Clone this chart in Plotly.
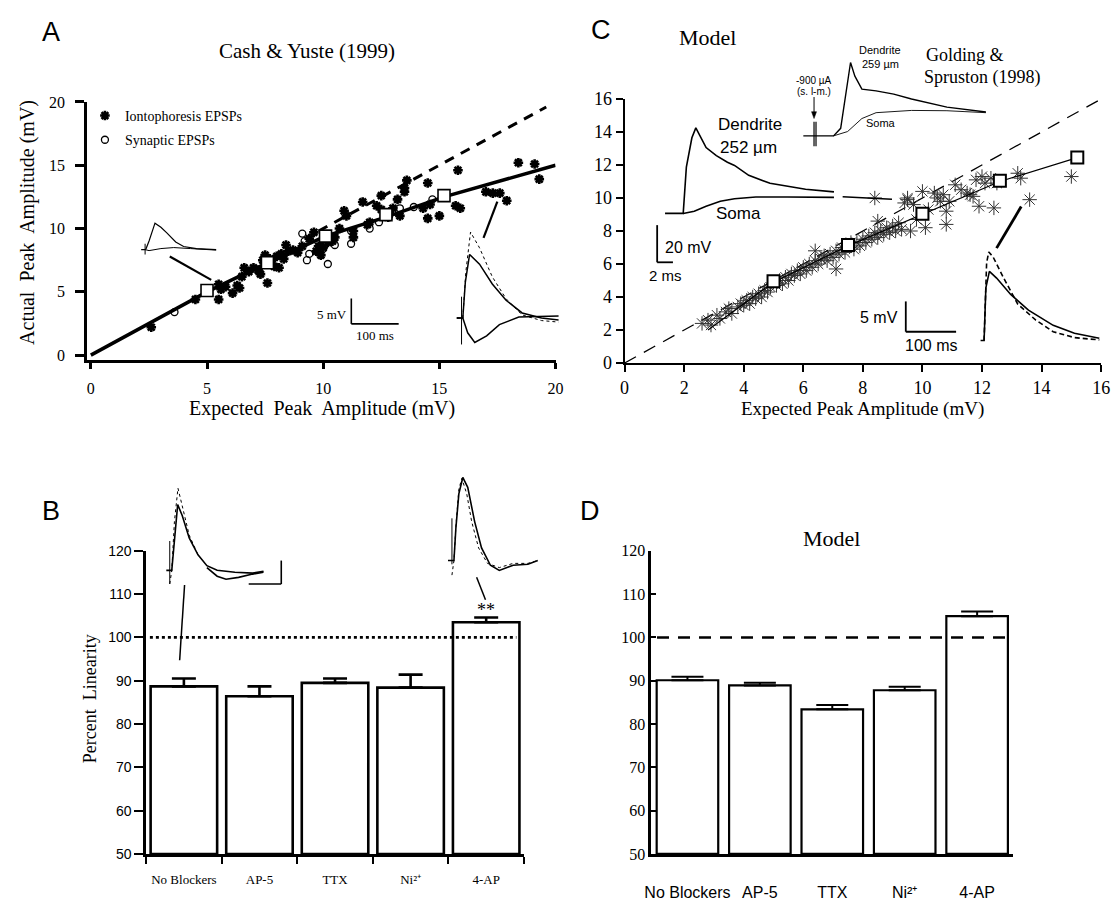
import plotly.graph_objects as go

W, H = 1120, 905

# ---------------- Panel A : Cash & Yuste (1999) ----------------
a_ionto_x = [2.6, 4.5, 5.5, 5.6, 5.5, 5.8, 6.1, 6.3, 6.4, 6.5, 6.6, 6.8, 7.0, 7.2, 7.3, 7.4, 7.5, 7.6,
             7.7, 7.8, 7.9, 8.0, 8.1, 8.2, 8.3, 8.4, 8.5, 8.7, 8.9, 9.1, 9.4, 9.6, 9.7, 9.8, 9.9, 10.0,
             10.2, 10.4, 10.5, 10.7, 10.9, 11.0, 11.3, 11.3, 11.7, 11.9, 12.0, 12.3, 12.5, 12.5, 12.8,
             13.0, 13.2, 13.3, 13.5, 13.6, 13.5, 14.3, 14.5, 14.5, 14.6, 15.0, 15.7, 15.8, 15.9, 17.0,
             17.3, 17.6, 17.9, 18.4, 19.1, 19.3]
a_ionto_y = [2.2, 4.4, 4.4, 5.2, 5.6, 5.4, 4.9, 5.5, 5.3, 6.2, 6.9, 6.6, 6.9, 6.7, 6.4, 7.5, 7.9, 5.7,
             7.6, 7.2, 7.0, 7.8, 6.9, 8.0, 7.6, 8.7, 8.2, 8.3, 8.1, 8.6, 9.2, 9.7, 8.2, 8.6, 7.9, 8.5,
             8.9, 9.0, 9.3, 10.0, 11.4, 11.0, 9.3, 9.8, 12.1, 10.3, 10.5, 11.8, 12.6, 11.5, 10.9,
             11.6, 12.3, 11.0, 12.9, 13.8, 13.2, 11.6, 13.6, 10.8, 11.9, 11.0, 11.8, 14.6, 11.6, 12.9,
             12.8, 12.8, 12.2, 15.2, 15.1, 13.9]
a_syn_x = [3.6, 9.1, 9.2, 9.3, 9.4, 10.0, 10.2, 10.5, 11.2, 11.2, 12.0, 12.4, 13.3, 13.9, 14.7]
a_syn_y = [3.4, 9.6, 9.0, 7.5, 8.0, 8.4, 7.2, 8.7, 8.8, 9.8, 10.0, 10.5, 11.6, 11.7, 12.3]
a_bin_x = [5.0, 7.6, 10.1, 12.7, 15.2]
a_bin_y = [5.1, 7.3, 9.4, 11.1, 12.6]
a_fit_x = [0, 5.0, 7.6, 10.1, 12.7, 15.2, 20.0]
a_fit_y = [0, 5.0, 7.3, 9.4, 10.9, 12.5, 15.0]
a_unity_x = [9.8, 19.6]
a_unity_y = [9.8, 19.6]
a_ticks = [0, 5, 10, 15, 20]

# ---------------- Panel C : Model ----------------
c_star_x = [2.6, 2.8, 2.9, 3.1, 3.2, 3.4, 3.5, 3.6, 3.8, 3.9, 4.0, 4.1, 4.2, 4.3, 4.4, 4.5, 4.6, 4.7,
            4.8, 4.9, 5.1, 5.2, 5.3, 5.4, 5.5, 5.6, 5.7, 5.8, 5.9, 6.0, 6.1, 6.2, 6.3, 6.4, 6.4, 6.5,
            6.6, 6.7, 6.8, 6.9, 7.0, 7.1, 7.1, 7.2, 7.3, 7.4, 7.6, 7.7, 7.8, 7.9, 8.0, 8.1, 8.2, 8.3,
            8.4, 8.5, 8.5, 8.6, 8.7, 8.8, 8.9, 9.0, 9.1, 9.2, 9.3, 9.4, 9.5, 9.6, 9.7, 9.8, 10.0,
            10.1, 10.2, 10.4, 10.5, 10.6, 10.7, 10.8, 10.8, 10.9, 11.1, 11.3, 11.5, 11.6, 11.7, 11.8,
            11.9, 12.0, 12.1, 12.3, 12.4, 12.5, 13.2, 13.3, 13.6, 15.0, 8.4, 9.5]
c_star_y = [2.4, 2.6, 2.3, 2.9, 2.7, 3.1, 3.3, 3.0, 3.4, 3.6, 3.5, 3.8, 3.6, 4.0, 3.9, 4.2, 4.0, 4.4,
            4.3, 4.6, 4.7, 5.0, 4.8, 5.2, 5.0, 5.4, 5.3, 5.6, 5.4, 5.8, 5.6, 6.0, 5.8, 6.2, 6.8, 6.0,
            6.3, 6.5, 6.2, 6.6, 6.4, 6.8, 5.7, 6.6, 7.0, 6.7, 7.3, 6.9, 7.3, 7.1, 7.5, 7.3, 7.7, 7.5,
            7.9, 7.6, 8.6, 8.0, 7.8, 8.2, 7.9, 8.3, 8.0, 8.5, 8.1, 9.7, 9.9, 8.0, 9.6, 8.7, 10.4,
            8.2, 9.3, 10.3, 10.0, 9.8, 10.2, 9.2, 8.4, 9.8, 10.8, 10.5, 10.3, 10.2, 10.1, 11.1,
            9.5, 11.3, 10.9, 11.2, 9.4, 10.9, 11.5, 11.2, 9.9, 11.3, 10.0, 10.0]
c_bin_x = [5.0, 7.5, 10.0, 12.6, 15.2]
c_bin_y = [4.95, 7.15, 9.05, 11.05, 12.45]
c_fit_x = [2.8, 5.0, 7.5, 10.0, 12.6, 15.2]
c_fit_y = [2.0, 4.9, 7.1, 9.0, 11.0, 12.45]
c_unity_x = [0, 16]
c_unity_y = [0, 16]
c_ticks = [0, 2, 4, 6, 8, 10, 12, 14, 16]

# ---------------- Panels B and D : percent linearity ----------------
b_categories = ["No Blockers", "AP-5", "TTX", "Ni²⁺", "4-AP"]
b_values = [88.7, 86.4, 89.5, 88.4, 103.5]
b_errors = [1.8, 2.3, 1.0, 3.0, 1.1]
d_categories = ["No Blockers", "AP-5", "TTX", "Ni²⁺", "4-AP"]
d_values = [90.1, 88.9, 83.4, 87.8, 104.9]
d_errors = [0.8, 0.6, 1.0, 0.8, 1.1]
pct_ticks = [50, 60, 70, 80, 90, 100, 110, 120]

# ---------------- inset waveforms (time ms, voltage mV) ----------------
a1_t = [2, 10, 12, 18, 30, 42, 54, 72, 88, 114, 154]
a1_v = [0, 0, 0.2, 1.7, 5.2, 4.4, 3.3, 1.5, 0.6, 0.2, 0]
a1_soma_t = [10, 18, 42, 68, 102, 154]
a1_soma_v = [0, -0.2, 0.2, 0.4, 0.2, -0.1]
a1_art_t = [10, 10]
a1_art_v = [1.15, -1.35]

a2_t = [4, 12.5, 16.7, 22, 31, 52, 79, 108, 142, 183, 219]
a2_v = [0, 0, 0, 7, 12.5, 10.6, 6.7, 3.5, 1.0, 0, -0.4]
a2_exp_t = [4, 16.7, 23, 33, 52, 79, 108, 142, 183, 219]
a2_exp_v = [0, 0, 9, 16.9, 13.8, 8.1, 3.8, 0.6, -0.5, -0.8]
a2_soma_t = [4, 16.7, 27, 42, 67, 94, 135, 219]
a2_soma_v = [0, 0, -2.9, -4.8, -3.5, -1.3, 0.2, 0.4]
a2_art_t = [14, 14]
a2_art_v = [4.2, -5.2]

c1_dend_t = [1.0, 3.3, 3.7, 4.4, 4.9, 5.5, 6.2, 7.5, 8.9, 9.8, 11.6, 14.3, 18.8, 22.4]
c1_dend_v = [0, 0, 24.9, 40.7, 46.0, 40.7, 35.4, 31.1, 27.5, 25.8, 20.5, 16.2, 13.0, 11.6]
c1_soma_t = [3.3, 4.7, 6.2, 8.0, 9.8, 12.5, 16.5, 22.4]
c1_soma_v = [0, 1.2, 3.8, 6.5, 7.9, 8.8, 8.8, 8.6]

c2_dend_t = [0, 15.4, 19, 21.7, 24, 26.2, 29.75, 36.95, 45.9, 54.9, 72.85, 92.6]
c2_dend_v = [0, 0, 3.85, 22.2, 37.5, 30.5, 23.85, 23, 21.35, 18.85, 14.7, 12.2]
c2_soma_t = [15.4, 22.5, 29.75, 36.95, 54.9, 72.85, 92.6]
c2_soma_v = [0, 2.2, 8.85, 11.85, 13, 12.85, 11.85]
c2_art_t = [5.5, 5.5, None, 6.5, 6.5]
c2_art_v = [7.2, -5.3, None, 7.2, -5.3]

c3_t = [5.5, 12.5, 16, 23, 37.3, 65.3, 100.6, 149.8, 192, 241.4]
c3_v = [0, 0, 8.7, 11.4, 10.3, 7.6, 5.0, 2.5, 1.2, 0.37]
c3_lin_t = [12.5, 17.5, 21.8, 30.2, 51.4, 79.4, 114.7, 149.8, 192, 241.4]
c3_lin_v = [0, 12.8, 14.6, 13.8, 10.3, 6.0, 3.4, 1.45, 0.48, 0.1]

b1_t = [13.6, 24.2, 30.3, 48.5, 62.4, 83.9, 110.9, 138.2, 169.7, 224.2, 278.8, 312.1]
b1_v = [0, 0, 0, 14.0, 11.7, 6.9, 3.3, 1.0, 0, -0.4, -0.6, -0.2]
b1_low_t = [138.2, 169.7, 197, 235.5, 278.8, 312.1]
b1_low_v = [0.6, -1.25, -1.9, -1.5, -0.8, -0.4]
b1_exp_t = [24.2, 30.3, 38.5, 49.4, 62.4, 83.9, 110.9]
b1_exp_v = [-2.9, 0, 10.4, 17.5, 13.75, 7.5, 3.3]
b1_art_t = [24.2, 24.2]
b1_art_v = [6.25, -2.9]

b2_t = [9.1, 27.3, 33.3, 42.4, 54.5, 69.7, 90.9, 112.1, 139.4, 166.7, 209.1, 254.5, 284.8]
b2_v = [0, 0, 6.9, 14.2, 17.7, 15.6, 8.3, 2.7, -1.0, -2.1, -1.0, -0.8, 0]
b2_exp_t = [21.2, 27.3, 33.3, 42.4, 51.5, 66.7, 81.8, 103, 130.3, 166.7, 209.1, 254.5, 284.8]
b2_exp_v = [-3.1, 0, 7.3, 15.2, 17.5, 14.2, 8.3, 2.7, -0.6, -1.5, -0.6, -0.6, 0]
b2_art_t = [21.2, 21.2]
b2_art_v = [9, -0.8]


def PX(x):
    return x / W


def PY(y):
    return 1 - y / H


def dom_x(a, b):
    return [PX(a), PX(b)]


def dom_y(top, bottom):
    return [PY(bottom), PY(top)]


SERIF = "Liberation Serif"
SANS = "Liberation Sans"

fig = go.Figure()


def line(x, y, xa, ya, width=1.5, dash="solid", color="black"):
    fig.add_trace(go.Scatter(x=x, y=y, xaxis=xa, yaxis=ya, mode="lines",
                             line=dict(color=color, width=width, dash=dash),
                             showlegend=False, hoverinfo="skip"))


# ---- Panel A traces ----
line(a_unity_x, a_unity_y, "x", "y", width=3, dash="10px,8px")
line(a_fit_x, a_fit_y, "x", "y", width=3.5)
fig.add_trace(go.Scatter(x=a_ionto_x, y=a_ionto_y, xaxis="x", yaxis="y", mode="markers",
                         name="Iontophoresis EPSPs", legendgroup="g1",
                         marker=dict(symbol="asterisk-open", size=8, color="black",
                                     line=dict(color="black", width=2.6))))
fig.add_trace(go.Scatter(x=a_syn_x, y=a_syn_y, xaxis="x", yaxis="y", mode="markers",
                         name="Synaptic EPSPs", legendgroup="g2",
                         marker=dict(symbol="circle-open", size=7, color="black",
                                     line=dict(color="black", width=1.3))))
fig.add_trace(go.Scatter(x=a_bin_x, y=a_bin_y, xaxis="x", yaxis="y", mode="markers",
                         showlegend=False,
                         marker=dict(symbol="square", size=12, color="white",
                                     line=dict(color="black", width=1.6))))

# ---- Panel C traces ----
line(c_unity_x, c_unity_y, "x2", "y2", width=1.3, dash="13px,9px")
fig.add_trace(go.Scatter(x=c_star_x, y=c_star_y, xaxis="x2", yaxis="y2", mode="markers",
                         showlegend=False,
                         marker=dict(symbol="asterisk-open", size=12, color="#333333",
                                     line=dict(color="#333333", width=1))))
line(c_fit_x, c_fit_y, "x2", "y2", width=1.2)
fig.add_trace(go.Scatter(x=c_bin_x, y=c_bin_y, xaxis="x2", yaxis="y2", mode="markers",
                         showlegend=False,
                         marker=dict(symbol="square", size=12, color="white",
                                     line=dict(color="black", width=2))))

# ---- Panel B bars ----
fig.add_trace(go.Bar(x=b_categories, y=[v - 50 for v in b_values], base=50, xaxis="x3", yaxis="y3",
                     width=0.88, showlegend=False,
                     marker=dict(color="white", line=dict(color="black", width=2.6)),
                     error_y=dict(type="data", array=b_errors, arrayminus=[0] * 5, symmetric=False,
                                  color="black", thickness=2.6, width=12)))
# ---- Panel D bars ----
fig.add_trace(go.Bar(x=d_categories, y=[v - 50 for v in d_values], base=50, xaxis="x4", yaxis="y4",
                     width=0.85, showlegend=False,
                     marker=dict(color="white", line=dict(color="black", width=2.2)),
                     error_y=dict(type="data", array=d_errors, arrayminus=[0] * 5, symmetric=False,
                                  color="black", thickness=2, width=16)))

# ---- inset waveforms ----
line(a1_t, a1_v, "x5", "y5", 1.2)
line(a1_soma_t, a1_soma_v, "x5", "y5", 1.0)
line(a1_art_t, a1_art_v, "x5", "y5", 1.0)
line(a2_exp_t, a2_exp_v, "x6", "y6", 1.0, "dot")
line(a2_t, a2_v, "x6", "y6", 1.5)
line(a2_soma_t, a2_soma_v, "x6", "y6", 1.5)
line(a2_art_t, a2_art_v, "x6", "y6", 1.0)
line(c1_dend_t, c1_dend_v, "x7", "y7", 1.6)
line(c1_soma_t, c1_soma_v, "x7", "y7", 1.6)
line(c2_dend_t, c2_dend_v, "x8", "y8", 1.4)
line(c2_soma_t, c2_soma_v, "x8", "y8", 0.9)
line(c2_art_t, c2_art_v, "x8", "y8", 1.2)
line(c3_lin_t, c3_lin_v, "x9", "y9", 1.6, "5px,3px")
line(c3_t, c3_v, "x9", "y9", 1.6)
line(b1_exp_t, b1_exp_v, "x10", "y10", 1.0, "dot")
line(b1_t, b1_v, "x10", "y10", 1.6)
line(b1_low_t, b1_low_v, "x10", "y10", 1.6)
line(b1_art_t, b1_art_v, "x10", "y10", 1.0)
line(b2_exp_t, b2_exp_v, "x11", "y11", 1.0, "dot")
line(b2_t, b2_v, "x11", "y11", 1.6)
line(b2_art_t, b2_art_v, "x11", "y11", 1.0)

axis_common = dict(showline=True, linecolor="black", showgrid=False, zeroline=False,
                   tickcolor="black", mirror=False)

layout = dict(
    width=W, height=H, margin=dict(l=0, r=0, t=0, b=0),
    paper_bgcolor="white", plot_bgcolor="white",
    barmode="overlay",
    showlegend=True,
    legend=dict(x=PX(80), y=PY(92), xanchor="left", yanchor="top",
                font=dict(family=SERIF, size=14, color="black"),
                bgcolor="rgba(0,0,0,0)", traceorder="grouped", tracegroupgap=3),
    xaxis=dict(axis_common, domain=dom_x(82, 557), range=[-0.17, 20], anchor="y",
               tickvals=a_ticks, ticks="outside", ticklen=6, tickwidth=2.5, linewidth=2.5,
               ticklabelstandoff=6,
               tickfont=dict(family=SERIF, size=16, color="black")),
    yaxis=dict(axis_common, domain=dom_y(94, 358), range=[-0.39, 20], anchor="x",
               tickvals=a_ticks, ticks="outside", ticklen=9, tickwidth=2.5, linewidth=2.5,
               ticklabelstandoff=7,
               tickfont=dict(family=SERIF, size=16, color="black")),
    xaxis2=dict(axis_common, domain=dom_x(627, 1110), range=[0, 16], anchor="y2",
                tickvals=c_ticks, ticks="outside", ticklen=7, tickwidth=2, linewidth=2,
                tickfont=dict(family=SERIF, size=18, color="black")),
    yaxis2=dict(axis_common, domain=dom_y(91, 361), range=[0, 16], anchor="x2",
                tickvals=c_ticks, ticks="outside", ticklen=7, tickwidth=2, linewidth=2,
                tickfont=dict(family=SERIF, size=18, color="black")),
    xaxis3=dict(axis_common, domain=dom_x(142, 525), range=[-0.5, 4.5], anchor="y3",
                type="category", tickson="boundaries", ticks="outside", ticklen=7, tickwidth=2,
                linewidth=2.5, ticklabelstandoff=12,
                tickfont=dict(family=SERIF, size=13, color="black")),
    yaxis3=dict(axis_common, domain=dom_y(553, 863), range=[50, 120], anchor="x3",
                tickvals=pct_ticks, ticks="outside", ticklen=9, tickwidth=2, linewidth=2.5,
                tickfont=dict(family=SANS, size=14, color="black")),
    xaxis4=dict(axis_common, domain=dom_x(654, 1021), range=[-0.5, 4.5], anchor="y4",
                type="category", ticks="", linewidth=2.5, ticklabelstandoff=22,
                tickfont=dict(family=SANS, size=16, color="black")),
    yaxis4=dict(axis_common, domain=dom_y(553, 863), range=[50, 120], anchor="x4",
                tickvals=pct_ticks, ticks="inside", ticklen=5, tickwidth=2, linewidth=2.5,
                tickfont=dict(family=SERIF, size=16, color="black")),
)

insets = {
    5: ((136, 216), (212, 250), [0, 160], [-0.96, 6.35]),
    6: ((455, 562), (222, 345), [0, 223], [-5.77, 17.88]),
    7: ((660, 850), (112, 212), [0, 23.75], [-2.1, 50.5]),
    8: ((808, 1000), (40, 145), [0, 96], [-8.15, 44.35]),
    9: ((985, 1110), (240, 345), [0, 245], [-1.13, 15.8]),
    10: ((158, 285), (480, 600), [0, 384.8], [-5.625, 19.375]),
    11: ((445, 545), (470, 585), [0, 303], [-4.58, 19.375]),
}
for n, (xd, yd, xr, yr) in insets.items():
    layout[f"xaxis{n}"] = dict(domain=dom_x(*xd), range=xr, visible=False, anchor=f"y{n}")
    layout[f"yaxis{n}"] = dict(domain=dom_y(*yd), range=yr, visible=False, anchor=f"x{n}")

fig.update_layout(**layout)


def seg(x0, y0, x1, y1, width=1.8):
    fig.add_shape(type="line", xref="paper", yref="paper",
                  x0=PX(x0), y0=PY(y0), x1=PX(x1), y1=PY(y1),
                  line=dict(color="black", width=width))


# connector lines and scale bars
seg(166, 252, 208, 276, 2.2)
seg(484, 233, 498, 196, 2.2)
seg(848, 191, 898, 193.6, 1.5)
seg(1004, 243.5, 1029, 201, 2.8)
seg(181, 588, 176, 665, 1.5)
seg(477, 580, 486, 603, 1.5)
seg(350, 295, 350, 321, 1.6)
seg(350, 321, 398, 321, 1.6)
seg(660, 220, 660, 258, 1.8)
seg(660, 258, 676, 258, 1.8)
seg(912, 298, 912, 329, 1.8)
seg(912, 329, 963, 329, 1.8)
seg(279, 563, 279, 587, 1.6)
seg(246, 587, 279, 587, 1.6)
# stimulus arrow (-900 uA)
seg(819, 89, 819, 106, 1.0)
fig.add_shape(type="path", xref="paper", yref="paper",
              path=f"M {PX(816.5)} {PY(104)} L {PX(821.5)} {PY(104)} L {PX(819)} {PY(111)} Z",
              fillcolor="black", line=dict(color="black", width=0.5))

# reference lines at 100 %
fig.add_shape(type="line", xref="x3", yref="y3", x0=-0.45, x1=4.4, y0=100, y1=100,
              line=dict(color="black", width=2.8, dash="dot"))
fig.add_shape(type="line", xref="x4", yref="y4", x0=-0.42, x1=4.45, y0=100, y1=100,
              line=dict(color="black", width=2.5, dash="12px,9px"))


def text(x, y, s, size, family=SERIF, angle=0, xanchor="center"):
    fig.add_annotation(x=PX(x), y=PY(y), xref="paper", yref="paper", text=s, showarrow=False,
                       font=dict(family=family, size=size, color="black"), textangle=angle,
                       xanchor=xanchor, yanchor="middle")


text(46, 22, "A", 27, SANS)
text(603, 20, "C", 27, SANS)
text(46, 512, "B", 27, SANS)
text(592, 512, "D", 27, SANS)
text(305, 42, "Cash &amp; Yuste (1999)", 21)
text(21, 217, "Actual  Peak  Amplitude (mV)", 20, angle=-90)
text(320, 408, "Expected  Peak  Amplitude (mV)", 20)
text(330, 311, "5 mV", 13)
text(374, 333, "100 ms", 13)
text(711, 28, "Model", 22)
text(754, 117, "Dendrite", 17, SANS)
text(753, 141, "252 µm", 17, SANS)
text(742, 208, "Soma", 17, SANS)
text(692, 243, "20 mV", 16, SANS)
text(668, 271, "2 ms", 15, SANS)
text(886, 41, "Dendrite", 11, SANS)
text(886, 55, "259 µm", 11, SANS)
text(887, 116, "Soma", 11, SANS)
text(819, 72, "-900 µA", 10, SANS)
text(819, 83, "(s. l-m.)", 10, SANS)
text(972, 46, "Golding &amp;", 18)
text(990, 69, "Spruston (1998)", 18)
text(885, 314, "5 mV", 16, SANS)
text(938, 343, "100 ms", 16, SANS)
text(868, 408, "Expected Peak Amplitude (mV)", 19)
text(86, 704, "Percent  Linearity", 18, angle=-90)
text(487, 614, "**", 18)
text(837, 540, "Model", 22)

fig.write_html("out.html")
